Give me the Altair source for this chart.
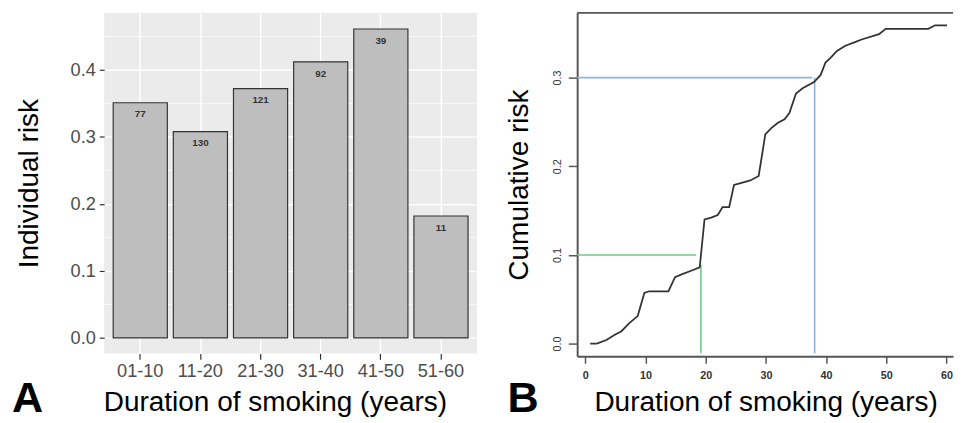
import altair as alt
import pandas as pd

# ---- Panel A data ----
groups = ["01-10", "11-20", "21-30", "31-40", "41-50", "51-60"]
individual_risk = [0.351, 0.308, 0.372, 0.412, 0.461, 0.182]
counts = [77, 130, 121, 92, 39, 11]
minor_grid = [0.05, 0.15, 0.25, 0.35, 0.45]

# ---- Panel B data ----
years = [0.8, 1.9, 3.5, 4.9, 6.0, 7.3, 8.7, 9.8, 10.6, 13.8, 14.9, 16.0, 17.9, 19.0,
         19.8, 20.9, 22.0, 22.8, 23.9, 24.7, 25.8, 27.4, 28.8, 29.9, 30.9, 32.0, 33.1,
         33.9, 35.0, 36.1, 38.0, 39.1, 39.9, 40.7, 41.8, 43.2, 44.8, 45.9, 48.8, 49.9,
         57.0, 58.1, 60.1]
cum_risk = [0.0, 0.0, 0.004, 0.010, 0.014, 0.023, 0.031, 0.057, 0.059, 0.059, 0.075,
            0.078, 0.083, 0.086, 0.140, 0.142, 0.145, 0.154, 0.154, 0.179, 0.181, 0.184,
            0.189, 0.236, 0.243, 0.249, 0.253, 0.260, 0.282, 0.288, 0.295, 0.303, 0.317,
            0.322, 0.330, 0.336, 0.340, 0.343, 0.349, 0.355, 0.355, 0.359, 0.359]
# reference lines: horizontal (x from, x to, y) and vertical (x, y from, y to)
ref_names = ["green", "blue"]
h_x0 = [-1.36, -1.36]
h_x1 = [18.4, 37.7]
h_y = [0.1, 0.3]
v_x = [19.2, 38.1]
v_y0 = [0.089, 0.3]
v_y1 = [-0.011, -0.011]
ref_colors = ["#6CCB8A", "#8AB4E8"]

FONT = "Liberation Sans"
TITLE_SIZE = 28.5

# ================= Panel A =================
dfA = pd.DataFrame({"group": groups, "risk": individual_risk, "n": counts})
dfMinor = pd.DataFrame({"v": minor_grid})

yA = alt.Scale(domain=[-0.0231, 0.4851], nice=False, zero=False)
xA = alt.Scale(paddingInner=0.1, paddingOuter=0.15)

minor = alt.Chart(dfMinor).mark_rule(color="white", strokeWidth=0.7).encode(
    y=alt.Y("v:Q", scale=yA)
)

bars = alt.Chart(dfA).mark_bar(color="#BEBEBE", stroke="#333333", strokeWidth=1.2).encode(
    x=alt.X("group:N", scale=xA, sort=groups,
            axis=alt.Axis(title="Duration of smoking (years)", labelAngle=0,
                          labelFontSize=18.5, labelColor="#4D4D4D", labelFont=FONT,
                          tickColor="#333333", tickSize=6, tickWidth=1.2,
                          labelPadding=3, domain=False,
                          grid=True, gridColor="white", gridWidth=1.4,
                          bandPosition=0.5, titleX=174,
                          titleFontSize=TITLE_SIZE, titleFont=FONT, titleFontWeight="normal",
                          titleColor="black", titlePadding=8)),
    y=alt.Y("risk:Q", scale=yA,
            axis=alt.Axis(title="Individual risk", values=[0, 0.1, 0.2, 0.3, 0.4],
                          format=".1f", labelFontSize=18.5, labelColor="#4D4D4D",
                          labelFont=FONT, tickColor="#333333", tickSize=5,
                          tickWidth=1.2, labelPadding=4, domain=False,
                          grid=True, gridColor="white", gridWidth=1.4,
                          titleFontSize=TITLE_SIZE, titleFont=FONT, titleFontWeight="normal",
                          titleColor="black", titlePadding=27)),
)

labelsA = alt.Chart(dfA).mark_text(fontSize=10, fontWeight="bold", color="#333333",
                                   font=FONT, dy=12).encode(
    x=alt.X("group:N", scale=xA, sort=groups),
    y=alt.Y("risk:Q", scale=yA),
    text="n:Q",
)

tagA = alt.Chart(pd.DataFrame({"t": ["A"]})).mark_text(
    fontSize=44, fontWeight="bold", font=FONT, align="left", baseline="alphabetic",
    color="black").encode(x=alt.value(-94), y=alt.value(407), text="t:N")

# ================= Panel B =================
dfB = pd.DataFrame({"year": years, "risk": cum_risk})
dfH = pd.DataFrame({"name": ref_names, "x0": h_x0, "x1": h_x1, "y": h_y, "c": ref_colors})
dfV = pd.DataFrame({"name": ref_names, "x": v_x, "y0": v_y0, "y1": v_y1, "c": ref_colors})

xB = alt.Scale(domain=[-1.36, 61.09], nice=False, zero=False)
yB = alt.Scale(domain=[-0.0144, 0.373], nice=False, zero=False)

line = alt.Chart(dfB).mark_line(color="#333333", strokeWidth=1.8).encode(
    x=alt.X("year:Q", scale=xB,
            axis=alt.Axis(title="Duration of smoking (years)",
                          values=[0, 10, 20, 30, 40, 50, 60], format="d",
                          labelFontSize=11, labelColor="#333333", labelFont=FONT,
                          labelFontWeight="bold",
                          tickColor="#555555", tickSize=7, tickWidth=1.5,
                          labelPadding=7, domainColor="#555555", domainWidth=2,
                          grid=False, titleX=192,
                          titleFontSize=TITLE_SIZE, titleFont=FONT, titleFontWeight="normal",
                          titleColor="black", titlePadding=7)),
    y=alt.Y("risk:Q", scale=yB,
            axis=alt.Axis(title="Cumulative risk", values=[0, 0.1, 0.2, 0.3],
                          format=".1f", labelAngle=-90, labelAlign="center",
                          labelBaseline="bottom",
                          labelFontSize=11, labelColor="#333333", labelFont=FONT,
                          tickColor="#555555", tickSize=9, tickWidth=1.5,
                          labelPadding=6, domainColor="#555555", domainWidth=2,
                          grid=False,
                          titleFontSize=TITLE_SIZE, titleFont=FONT, titleFontWeight="normal",
                          titleColor="black", titlePadding=19)),
)

hrules = alt.Chart(dfH).mark_rule(strokeWidth=1.6).encode(
    x=alt.X("x0:Q", scale=xB), x2="x1:Q", y=alt.Y("y:Q", scale=yB),
    color=alt.Color("c:N", scale=None),
)
vrules = alt.Chart(dfV).mark_rule(strokeWidth=1.6).encode(
    x=alt.X("x:Q", scale=xB), y=alt.Y("y0:Q", scale=yB), y2="y1:Q",
    color=alt.Color("c:N", scale=None),
)

topline = alt.Chart(pd.DataFrame({"k": [0]})).mark_rule(color="#555555", strokeWidth=2).encode(
    x=alt.value(0), x2=alt.value(383), y=alt.value(0)
)

tagB = alt.Chart(pd.DataFrame({"t": ["B"]})).mark_text(
    fontSize=44, fontWeight="bold", font=FONT, align="left", baseline="alphabetic",
    color="black").encode(x=alt.value(-71), y=alt.value(407), text="t:N")

chart = alt.HConcatChart(hconcat=[
    alt.layer(minor, bars, labelsA, tagA).properties(
        width=380, height=347,
        view=alt.ViewBackground(fill="#EBEBEB", stroke=None)),
    alt.layer(hrules, vrules, line, topline, tagB).properties(
        width=383, height=350,
        view=alt.ViewBackground(fill="white", stroke=None)),
], spacing=27).properties(
    padding={"left": 4, "top": 0, "right": 0, "bottom": 0},
    background="white",
)

chart.save("out.html", embed_options={"renderer": "svg", "actions": False})
